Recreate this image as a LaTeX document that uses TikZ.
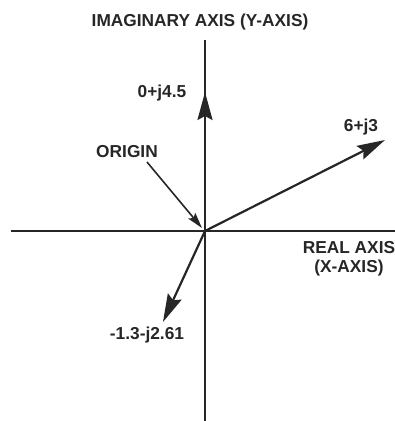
\documentclass[tikz,border=0pt]{standalone}
\usepackage{fontspec}
\setmainfont{Liberation Sans}
\usetikzlibrary{arrows.meta}
\begin{document}
\begin{tikzpicture}[x=1pt,y=-1pt,
  lbl/.style={font=\fontsize{17.3}{19}\selectfont\bfseries, inner sep=0pt, text=black!85},
  axisline/.style={line width=1.4pt, draw=black!85},
  vec/.style={line width=2.2pt, draw=black!85, -{Stealth[length=28pt,width=15pt,inset=4pt]}},
  pointer/.style={line width=1.6pt, draw=black!85, -{Stealth[length=16pt,width=9pt,inset=3pt]}}]
\useasboundingbox (0,0) rectangle (395,421);
\coordinate (O) at (205,231);
\coordinate (ytop) at (205,40);
\coordinate (ybot) at (205,421);
\coordinate (xleft) at (11,231);
\coordinate (xright) at (395,231);
\draw[axisline] (ytop) -- (ybot);
\draw[axisline] (xleft) -- (xright);
\coordinate (A) at (205,92);
\coordinate (B) at (385,140);
\coordinate (C) at (163,322);
\draw[vec] (O) -- (A);
\draw[vec] (O) -- (B);
\draw[vec] (O) -- (C);
\node[lbl] (ytitle) at (200,22) {IMAGINARY AXIS (Y-AXIS)};
\node[lbl] (la) at (162,93) {0+j4.5};
\node[lbl] (lb) at (361,127) {6+j3};
\node[lbl] (lorig) at (127,152) {ORIGIN};
\node[lbl] (lreal) at (349,248) {REAL AXIS};
\node[lbl] (lx) at (349,268) {(X-AXIS)};
\node[lbl] (lc) at (147,335) {-1.3-j2.61};
\coordinate (ps) at (147,162);
\draw[pointer] (ps) -- (202,228);
\end{tikzpicture}
\end{document}
